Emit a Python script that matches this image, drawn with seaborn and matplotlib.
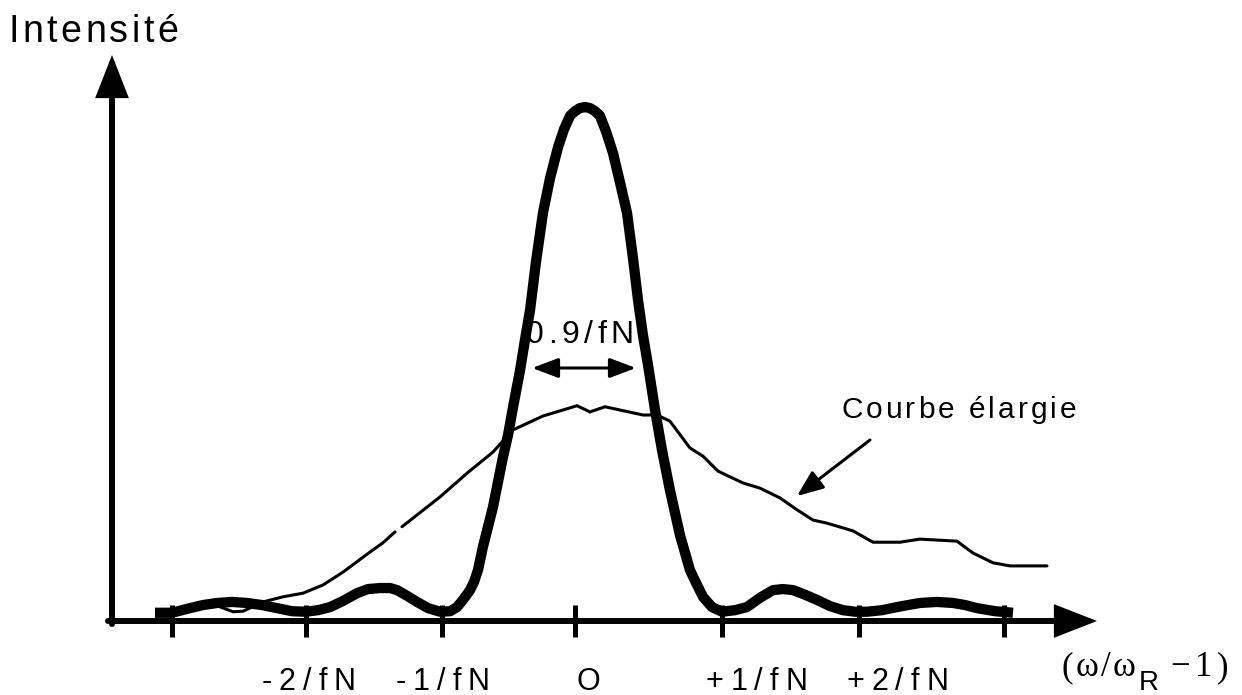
import numpy as np
import pandas as pd
import matplotlib
matplotlib.use("Agg")
import matplotlib.pyplot as plt
import seaborn as sns
from matplotlib.font_manager import findfont, FontProperties, get_font

# ------------------------------------------------------------------
# Data (x in units of 1/fN, y = normalised intensity)
# ------------------------------------------------------------------
thick_x = [-3.066, -2.942, -2.810, -2.715, -2.613, -2.504, -2.394, -2.285,
           -2.175, -2.066, -1.964, -1.876, -1.788, -1.693, -1.591, -1.511,
           -1.423, -1.350, -1.299, -1.226, -1.153, -1.073, -0.985, -0.912,
           -0.861, -0.818, -0.766, -0.737, -0.708, -0.672, -0.635, -0.599,
           -0.562, -0.526, -0.489, -0.460, -0.431, -0.401, -0.365, -0.328,
           -0.285, -0.234, -0.182, -0.124, -0.080, -0.036, 0.000, 0.036,
           0.073, 0.109, 0.146, 0.182, 0.226, 0.277, 0.328, 0.380, 0.423,
           0.460, 0.496, 0.533, 0.584, 0.635, 0.693, 0.766, 0.839, 0.891,
           0.934, 1.000, 1.073, 1.168, 1.255, 1.350, 1.445, 1.518, 1.591,
           1.679, 1.766, 1.861, 1.956, 2.044, 2.131, 2.241, 2.350, 2.431,
           2.518, 2.642, 2.759, 2.847, 2.934, 3.066, 3.197]
thick_y = [0.016, 0.016, 0.025, 0.031, 0.035, 0.037, 0.035, 0.031,
           0.025, 0.019, 0.018, 0.021, 0.027, 0.039, 0.054, 0.062,
           0.064, 0.064, 0.060, 0.049, 0.037, 0.025, 0.018, 0.019,
           0.027, 0.041, 0.060, 0.076, 0.099, 0.144, 0.183, 0.221,
           0.270, 0.318, 0.361, 0.404, 0.445, 0.487, 0.546, 0.604,
           0.697, 0.792, 0.860, 0.920, 0.955, 0.981, 0.990, 0.996,
           0.998, 0.996, 0.990, 0.981, 0.951, 0.909, 0.852, 0.792, 0.705,
           0.623, 0.555, 0.497, 0.410, 0.332, 0.254, 0.167, 0.099, 0.070,
           0.047, 0.027, 0.018, 0.021, 0.027, 0.045, 0.060, 0.062, 0.060,
           0.051, 0.041, 0.029, 0.021, 0.018, 0.018, 0.021, 0.027, 0.031,
           0.035, 0.037, 0.035, 0.031, 0.025, 0.019, 0.016]

thin_x = [-2.606, -2.496, -2.423, -2.277, -2.131, -1.985, -1.839, -1.693,
          -1.496, -1.401, -1.314,
          -1.263, -0.985, -0.788, -0.599, -0.453, -0.234, 0.015, 0.109,
          0.219, 0.496, 0.599, 0.693, 0.839, 0.934, 1.044, 1.226, 1.350,
          1.496, 1.620, 1.737, 1.839, 2.029, 2.175, 2.372, 2.518, 2.788,
          2.905, 3.051, 3.175, 3.445]
thin_y = [0.029, 0.018, 0.019, 0.037, 0.047, 0.054, 0.070, 0.095,
          0.134, 0.152, 0.173,
          0.183, 0.241, 0.287, 0.328, 0.371, 0.398, 0.418, 0.406,
          0.416, 0.400, 0.400, 0.388, 0.336, 0.320, 0.291, 0.268, 0.258,
          0.239, 0.216, 0.196, 0.190, 0.175, 0.153, 0.153, 0.159, 0.155,
          0.132, 0.113, 0.107, 0.107]
thin_seg = [0] * 11 + [1] * 30

tick_pos = [-2.94, -1.96, -0.97, 0.0, 1.07, 2.07, 3.13]
tick_labels = ["-2/fN", "-1/fN", "O", "+1/fN", "+2/fN"]

# ------------------------------------------------------------------
W, H, DPI = 1242, 695, 100
X0, SX, Y0, SY = 575.0, 137.0, 621.0, 515.0   # pixel <-> data mapping


def ux(px):
    return (px - X0) / SX


def vy(py):
    return (Y0 - py) / SY


sns.set_theme(style="white")
plt.rcParams["font.family"] = ["Liberation Sans", "DejaVu Sans"]

fig = plt.figure(figsize=(W / DPI, H / DPI), dpi=DPI)
ax = fig.add_axes([0, 0, 1, 1])
ax.set_xlim(ux(0), ux(W))
ax.set_ylim(vy(H), vy(0))
ax.axis("off")

# curves
thin_df = pd.DataFrame({"x": thin_x, "y": thin_y, "seg": thin_seg})
sns.lineplot(data=thin_df, x="x", y="y", units="seg", estimator=None,
             sort=False, color="black", linewidth=2.2, ax=ax, legend=False,
             solid_joinstyle="miter")
sns.lineplot(x=thick_x, y=thick_y, estimator=None, sort=False,
             color="black", linewidth=7.4, ax=ax, legend=False,
             solid_joinstyle="round", solid_capstyle="butt")

# axes with arrows
ax.annotate("", xy=(ux(1097), 0), xytext=(ux(108), 0),
            arrowprops=dict(arrowstyle="-|>,head_length=2.3,head_width=0.9",
                            mutation_scale=10, lw=4.3, color="black",
                            shrinkA=0, shrinkB=0, joinstyle="miter"))
ax.annotate("", xy=(ux(112), vy(55)), xytext=(ux(112), vy(624)),
            arrowprops=dict(arrowstyle="-|>,head_length=2.3,head_width=0.9",
                            mutation_scale=10, lw=4.3, color="black",
                            shrinkA=0, shrinkB=0, joinstyle="miter"))
ax.vlines(tick_pos, vy(637), vy(605), color="black", lw=3.6)

# width arrow
ax.annotate("", xy=(ux(636), vy(368)), xytext=(ux(532), vy(368)),
            arrowprops=dict(arrowstyle="<|-|>,head_length=1.6,head_width=0.6",
                            mutation_scale=10, lw=2.2, color="black",
                            shrinkA=0, shrinkB=0))
# pointer arrow
ax.annotate("", xy=(ux(797), vy(496)), xytext=(ux(870), vy(440)),
            arrowprops=dict(arrowstyle="-|>,head_length=1.6,head_width=0.65",
                            mutation_scale=10, lw=2.2, color="black",
                            shrinkA=0, shrinkB=0))


# ------------------------------------------------------------------
# letter-spaced text helper (x_ink = left ink edge, y = baseline, pixels)
def spaced(x_ink, y_base, s, size, track, family="Liberation Sans"):
    font = get_font(findfont(FontProperties(family=family)))
    font.set_size(size, DPI)
    glyphs = [font.load_char(ord(c)) for c in s]
    x = x_ink - glyphs[0].horiBearingX / 64.0
    for c, g in zip(s, glyphs):
        if c != " ":
            fig.text(x / W, 1 - y_base / H, c,
                     fontsize=size, family=[family, "DejaVu Sans"],
                     ha="left", va="baseline", color="black")
        x += g.linearHoriAdvance / 65536.0 + track


spaced(12, 42, "Intensité", 27, 3.5)
spaced(527, 343, "0.9/fN", 23, 4.5)
spaced(843, 418, "Courbe élargie", 21.5, 3.0)

label_left = [263, 397, 578, 707, 848]
for xl, lab in zip(label_left, tick_labels):
    spaced(xl, 690, lab, 22, 7.0)

spaced(1063, 676, "(ω/ω", 25, 2.5, family="Liberation Serif")
spaced(1141, 690, "R", 20, 0, family="Liberation Sans")
spaced(1172, 676, "−1)", 25, 5.0, family="Liberation Serif")

fig.savefig("out.png", dpi=DPI)
